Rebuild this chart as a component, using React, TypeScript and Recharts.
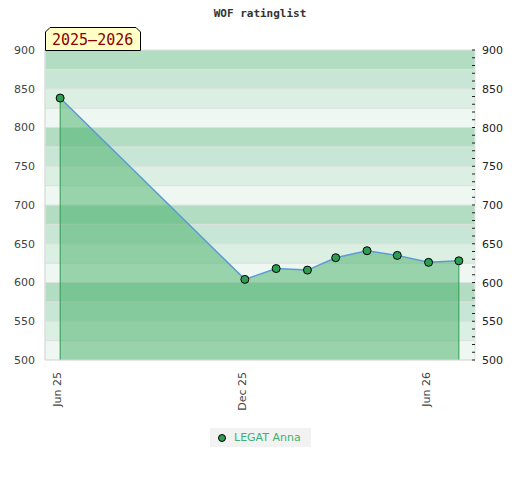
import React from "react";
import { ComposedChart, Area, Line, XAxis, YAxis, ReferenceArea, ReferenceLine } from "recharts";

// WOF ratinglist · one player, monthly ratings
const ratingDates = [
  "2025-06-01", "2025-12-01", "2026-01-01", "2026-02-01", "2026-03-01",
  "2026-04-01", "2026-05-01", "2026-06-01", "2026-07-01",
];
const ratings = [838, 604, 618, 616, 632, 641, 635, 626, 628];

const xTickDates = ["2025-06-01", "2025-12-01", "2026-06-01"];
const xTickLabels = ["Jun 25", "Dec 25", "Jun 26"];
const xDomainDates = ["2025-05-17", "2026-07-17"];

const yTicks = [500, 550, 600, 650, 700, 750, 800, 850, 900];
const bandLevels = [500, 525, 550, 575, 600, 625, 650, 675, 700, 725, 750, 775, 800, 825, 850, 875, 900];
const bandColors = ["#eef7f1", "#dcefe3", "#c8e6d5", "#b3ddc3"];

const title = "WOF ratinglist";
const seasonLabel = "2025–2026";
const playerName = "LEGAT Anna";

const ts = (d: string) => Date.parse(d + "T00:00:00Z");
const data = ratingDates.map((d, i) => ({ t: ts(d), rating: ratings[i] }));
const minorTicks = Array.from({ length: 41 }, (_, i) => 500 + i * 10);
const first = data[0];
const last = data[data.length - 1];

const FONT = "'DejaVu Sans', sans-serif";

const XTick = ({ x, y, payload }: any) => {
  const idx = xTickDates.findIndex(d => ts(d) === payload.value);
  return (
    <text x={x} y={y} dy={1} transform={`rotate(-90 ${x} ${y})`} textAnchor="end"
      fontSize={11} fontFamily={FONT} fill="#444">
      {idx >= 0 ? xTickLabels[idx] : ""}
    </text>
  );
};

const RightTick = ({ x, y, payload }: any) => (
  <g>
    <line x1={x - 3} x2={x} y1={y} y2={y} stroke="#222" strokeWidth={1} />
    {payload.value % 50 === 0 && (
      <text x={x + 7} y={y} dy={4} fontSize={11} fontFamily={FONT} fill="#222">{payload.value}</text>
    )}
  </g>
);

export default function App() {
  return (
    <div style={{ position: "fixed", left: 0, top: 0, width: 520, height: 480, background: "#fff" }}>
      <div style={{ position: "absolute", top: 7, left: 0, width: 520, textAlign: "center",
        fontFamily: "'DejaVu Sans Mono', monospace", fontWeight: "bold", fontSize: 11, color: "#333" }}>
        {title}
      </div>

      <ComposedChart width={520} height={480} data={data} margin={{ top: 50, right: 0, bottom: 0, left: 0 }}>
        <XAxis dataKey="t" type="number" scale="linear" domain={[ts(xDomainDates[0]), ts(xDomainDates[1])]}
          ticks={xTickDates.map(ts)} tick={<XTick />} height={120} tickSize={0} tickMargin={12}
          axisLine={{ stroke: "#dcdcdc" }} tickLine={false} allowDataOverflow />
        <YAxis yAxisId="left" orientation="left" width={45} domain={[500, 900]} ticks={yTicks}
          axisLine={{ stroke: "#dcdcdc" }} tickLine={false} tickSize={0} tickMargin={10}
          tick={{ fontSize: 11, fontFamily: FONT, fill: "#444" }} />
        <YAxis yAxisId="right" orientation="right" width={45} domain={[500, 900]} ticks={minorTicks}
          axisLine={false} tickLine={false} tickSize={0} tickMargin={0} tick={<RightTick />} interval={0} />

        {bandLevels.slice(0, -1).map((lvl, i) => (
          <ReferenceArea key={lvl} yAxisId="left" y1={lvl} y2={bandLevels[i + 1]}
            fill={bandColors[i % bandColors.length]} fillOpacity={1} stroke="#dde2de" strokeWidth={1} />
        ))}

        <Area yAxisId="left" type="linear" dataKey="rating" baseValue={500}
          stroke="#5b9bd5" strokeWidth={1.5} fill="#3cab60" fillOpacity={0.48}
          dot={{ r: 4, fill: "#2e9e55", stroke: "#000", strokeWidth: 1, fillOpacity: 1 }}
          activeDot={false} isAnimationActive={false} />
        <Line yAxisId="right" dataKey="rating" stroke="none" dot={false} activeDot={false}
          legendType="none" isAnimationActive={false} />

        <ReferenceLine yAxisId="left" segment={[{ x: first.t, y: 500 }, { x: first.t, y: first.rating }]}
          stroke="#2f9a52" strokeWidth={1} />
        <ReferenceLine yAxisId="left" segment={[{ x: last.t, y: 500 }, { x: last.t, y: last.rating }]}
          stroke="#2f9a52" strokeWidth={1} />
      </ComposedChart>

      <svg style={{ position: "absolute", left: 45, top: 27 }} width={96} height={24}>
        <polygon points="0.5,23.5 0.5,5 5,0.5 91,0.5 95.5,5 95.5,23.5"
          fill="#ffffc6" stroke="#000" strokeWidth={1} />
        <text x={7} y={18} fontSize={15} fontFamily="'DejaVu Sans Mono', monospace" fill="#8b0000">
          {seasonLabel}
        </text>
      </svg>

      <div style={{ position: "absolute", left: 210, top: 428, width: 101, height: 19, background: "#f2f2f2",
        display: "flex", alignItems: "center", fontFamily: FONT, fontSize: 11 }}>
        <span style={{ display: "inline-block", width: 6, height: 6, borderRadius: "50%", background: "#2e9e55",
          border: "1px solid #000", marginLeft: 8, marginRight: 8 }} />
        <span style={{ color: "#3cb371" }}>{playerName}</span>
      </div>
    </div>
  );
}
